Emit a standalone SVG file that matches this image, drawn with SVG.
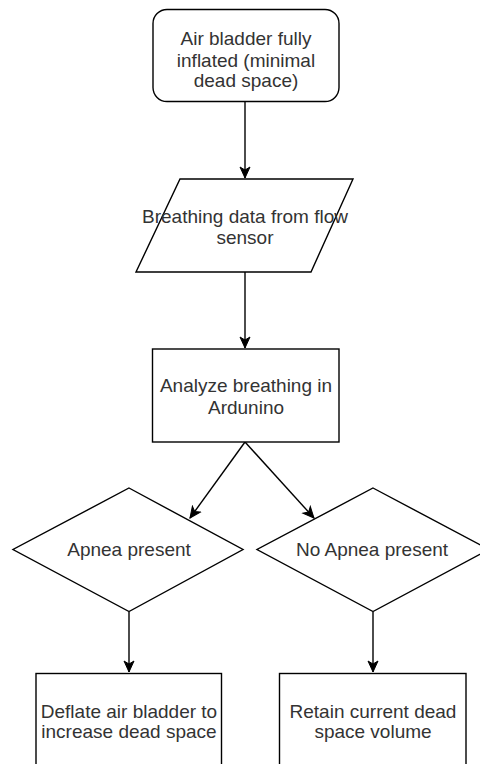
<svg xmlns="http://www.w3.org/2000/svg" width="480" height="764" viewBox="0 0 480 764">
<style>
.shape{fill:#ffffff;stroke:#000000;stroke-width:1.4}
.edge{fill:none;stroke:#000000;stroke-width:1.4}
text{font-family:"Liberation Sans",Arial,sans-serif;font-size:19px;fill:#333333;text-anchor:middle}
</style>
<defs>
<marker id="arr" markerUnits="userSpaceOnUse" markerWidth="14" markerHeight="14" viewBox="0 0 14 14" refX="12" refY="7" orient="auto">
<path d="M1,2 L12,7 L1,12 L4,7 Z" fill="#000000" stroke="#000000" stroke-width="1"/>
</marker>
</defs>
<rect width="480" height="764" fill="#ffffff"/>
<g id="connectors">
<line class="edge" x1="245" y1="101" x2="245" y2="178" marker-end="url(#arr)"/>
<line class="edge" x1="245" y1="272" x2="245" y2="348" marker-end="url(#arr)"/>
<line class="edge" x1="245" y1="442" x2="190" y2="518" marker-end="url(#arr)"/>
<line class="edge" x1="245" y1="442" x2="314" y2="518" marker-end="url(#arr)"/>
<line class="edge" x1="129" y1="612" x2="129" y2="672" marker-end="url(#arr)"/>
<line class="edge" x1="373" y1="612" x2="373" y2="672" marker-end="url(#arr)"/>
</g>
<g id="start">
<rect class="shape" x="153" y="9.5" width="186" height="92" rx="14" ry="14"/>
<text x="246" y="45">Air bladder fully</text>
<text x="246" y="66.5">inflated (minimal</text>
<text x="246" y="87">dead space)</text>
</g>
<g id="input">
<polygon class="shape" points="180,179 353,179 311,272 136,272"/>
<text x="245" y="223">Breathing data from flow</text>
<text x="245" y="244">sensor</text>
</g>
<g id="analyze">
<rect class="shape" x="152.5" y="349" width="186.5" height="93"/>
<text x="246" y="391.5">Analyze breathing in</text>
<text x="246" y="414">Ardunino</text>
</g>
<g id="apnea">
<polygon class="shape" points="129,488 243,549.5 129,611.5 13,549.5"/>
<text x="129" y="556">Apnea present</text>
</g>
<g id="noapnea">
<polygon class="shape" points="373,488 489,549.5 373,611.5 257,549.5"/>
<text x="372" y="556">No Apnea present</text>
</g>
<g id="deflate">
<rect class="shape" x="36" y="673.5" width="185.5" height="100"/>
<text x="129" y="718">Deflate air bladder to</text>
<text x="129" y="738">increase dead space</text>
</g>
<g id="retain">
<rect class="shape" x="279.5" y="673.5" width="186.5" height="100"/>
<text x="373" y="718">Retain current dead</text>
<text x="373" y="738">space volume</text>
</g>
</svg>
